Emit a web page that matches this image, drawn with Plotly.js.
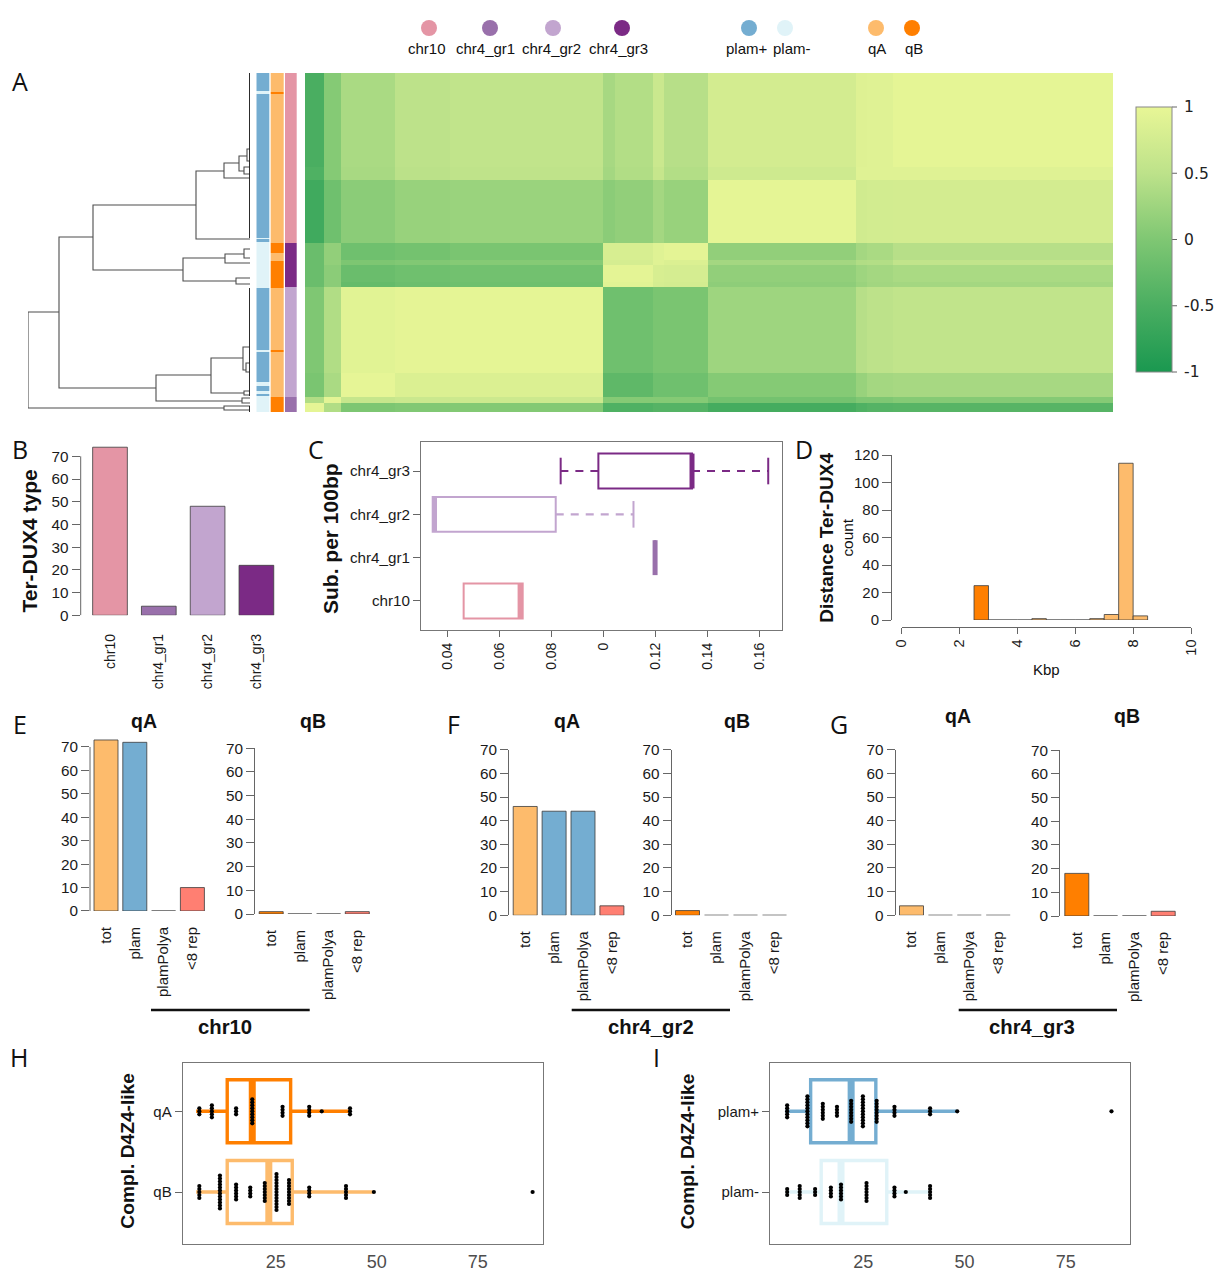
<!DOCTYPE html>
<html><head><meta charset="utf-8">
<script src="https://cdn.plot.ly/plotly-3.0.1.min.js"></script>
<style>html,body{margin:0;padding:0;background:#fff}#g{width:1216px;height:1280px}</style>
</head><body><div id="g"></div>
<script>
// ---------- DATA ----------
const chrCategories = ['chr10','chr4_gr1','chr4_gr2','chr4_gr3'];
const chrCounts = [74,4,48,22];

// Heatmap: block-wise correlation values (colEdges / rowEdges are cumulative sample extents)
const colEdges = [0,19,36,90,145,298,310,348,359,403,551,562,588,808];
const rowEdges = [0,94,107,170,187,192,209,214,300,324,330,339];
const heatValues = [
 [-.50,.05,.35,.50,.55,.32,.42,.65,.45,.75,.88,.90,.97],
 [-.45,.05,.33,.48,.52,.30,.40,.60,.42,.70,.90,.90,.90],
 [-.60,-.15,.10,.20,.22,.10,.15,.30,.20,.97,.72,.74,.75],
 [-.20,.15,-.15,-.10,-.05,.80,.80,.90,.95,.15,.30,.35,.45],
 [-.20,.15,-.02,.02,.05,.78,.78,.90,.85,.30,.40,.42,.55],
 [-.20,.10,-.20,-.15,-.12,.95,.95,.80,.78,.15,.25,.30,.35],
 [-.20,.10,-.25,-.18,-.15,.92,.92,.78,.76,.12,.22,.28,.30],
 [.00,.40,.92,.96,.97,-.15,-.15,-.05,-.05,.25,.45,.50,.55],
 [-.05,.35,.98,.85,.85,-.30,-.30,-.15,-.15,.05,.20,.30,.32],
 [.40,.95,.60,.65,.68,.05,.05,.05,.05,-.10,.00,.00,.05],
 [.97,.40,-.02,.02,.03,-.45,-.45,-.40,-.40,-.55,-.45,-.40,-.38]
];
// Annotation tracks: 0 plam+,1 plam-,2 qA,3 qB,4 chr10,5 gr1,6 gr2,7 gr3
const plamEdges = [0,18,21,165,166,169,170,215,277,279,309,313,318,321,323,339];
const plamCodes = [0,1,0,1,0,1,1,0,1,0,1,0,1,0,1];
const qEdges = [0,18.5,21,170,179.5,188,215,277,279,324,339];
const qCodes = [2,3,2,3,2,3,2,3,2,3];
const chrEdges = [0,170,214,324,339];
const chrCodes = [4,7,6,5];

// Dendrogram merges: [height, yTop, yBottom, heightTopChild, heightBottomChild]
const dendroMerges = [
 [222,239,335,191,26],[26,333,337,0,0],[191,164,315,157,94],[157,132,197,54,67],
 [54,98,166,26,0],[26,90,105,11,0],[11,83,98,3,6],[3,76,88,0,0],[6,94,101,0,0],
 [67,185,208,25,14],[25,181,190,6,0],[6,176,185,0,0],[14,205,211,0,0],
 [94,302,328,39,8],[8,325,330,0,0],[39,285,320,7,6],[6,318,322,0,0],
 [7,274,297,0,4],[4,290,299,0,0]
];
const dendroLeafSpans = [[0,165],[215,323],[333,339]];

// Panel C: substitutions per 100 bp
const subCats = ['chr10','chr4_gr1','chr4_gr2','chr4_gr3'];
const subQ1 = [.0464,.12,.0345,.0982];
const subMedian = [.0681,.12,.0352,.1342];
const subQ3 = [.0691,.12,.0818,.1342];
const subLow = [null,null,null,.0837];
const subHigh = [null,null,.1117,.1635];
const subTickVals = [.04,.06,.08,.10,.12,.14,.16];
const subTickText = ['0.04','0.06','0.08','0','0.12','0.14','0.16'];

// Panel D: histogram
const kbpBins = [2.75,3.25,3.75,4.25,4.75,5.25,5.75,6.25,6.75,7.25,7.75,8.25];
const kbpCounts = [25,0,0,0,1,0,0,0,1,4,114,3];

// Panels E-G
const repCats = ['tot','plam','plamPolya','<8 rep'];
const chr10qA = [73,72,0,10];
const chr10qB = [1,0,0,1];
const gr2qA = [46,44,44,4];
const gr2qB = [2,0,0,0];
const gr3qA = [4,0,0,0];
const gr3qB = [18,0,0,2];

// Panels H, I
const hCats = ['qB','qA'];
const hQ1 = [13.0,13.0], hMedian = [23.3,19.2], hQ3 = [29.1,28.7], hLow = [5.3,5.3], hHigh = [49,43.4];
const qADotVals = [6.1,9.2,15.2,19.2,26.7,33.3,36.4,43.4];
const qADotCounts = [3,5,3,9,4,4,1,3];
const qBDotVals = [6.1,11.2,15.2,18.7,22.3,25.2,28.3,33.3,42.4,49.3,88.6];
const qBDotCounts = [5,12,6,4,7,13,9,4,5,1,1];
const iCats = ['plam-','plam+'];
const iQ1 = [14.6,12.0], iMedian = [19.5,22], iQ3 = [30.8,28.1], iLow = [6.3,5.7], iHigh = [41.5,48.2];
const plamPlusDotVals = [6.2,11.2,15,18.5,22,24.9,28.3,32.7,41.5,48.2,86.3];
const plamPlusDotCounts = [5,11,6,4,8,11,8,4,3,1,1];
const plamMinusDotVals = [6.2,9.3,13.1,17,19.5,25.8,32.7,35.5,41.5];
const plamMinusDotCounts = [3,5,3,4,6,7,4,1,5];

const legendLabels = ['chr10','chr4_gr1','chr4_gr2','chr4_gr3','plam+','plam-','qA','qB'];

// ---------- STYLE ----------
const W=1216,H=1280;
const C={chr10:'#E495A5',gr1:'#9970AB',gr2:'#C2A5CF',gr3:'#7B2A85',plamP:'#74ADD1',plamM:'#E0F3F8',qA:'#FDBB6C',qB:'#FF7F00',rep:'#FF7F72'};
const SANS='Liberation Sans', AX='#666', TXT='#1a1a1a';
const dx=(a,b)=>[a/W,b/W], dy=(t,b)=>[1-b/H,1-t/H];
const traces=[], annotations=[], shapes=[];
const layout={width:W,height:H,autosize:false,margin:{l:0,r:0,t:0,b:0,pad:0,autoexpand:false},
  paper_bgcolor:'#fff',plot_bgcolor:'rgba(0,0,0,0)',showlegend:false,font:{family:SANS,color:TXT},
  annotations,shapes,boxmode:'overlay',barmode:'overlay',hovermode:false};
function sub(n,xc,yc){
  const s=n===1?'':n;
  const base={showgrid:false,zeroline:false,showline:false,ticks:'',showticklabels:false,fixedrange:true};
  layout['xaxis'+s]=Object.assign({},base,{anchor:'y'+s},xc);
  layout['yaxis'+s]=Object.assign({},base,{anchor:'x'+s},yc);
  return {xaxis:'x'+s,yaxis:'y'+s};
}
function ann(x,y,text,size,opt){
  opt=opt||{};
  annotations.push({xref:'paper',yref:'paper',x:x/W,y:1-y/H,text:opt.bold?'<b>'+text+'</b>':text,showarrow:false,
    xanchor:'center',yanchor:'middle',textangle:opt.angle||0,font:{family:opt.family||SANS,size:size,color:opt.color||'#111'}});
}
function hline(x0,x1,y){shapes.push({type:'line',xref:'paper',yref:'paper',x0:x0/W,x1:x1/W,y0:1-y/H,y1:1-y/H,line:{color:'#111',width:2.6}});}

// ---------- TOP LEGEND ----------
const legendX=[429,490,553,622,749,785,876,912], legendTextX=[427,485.5,551,618,747,792,877,913.5];
let a=sub(1,{domain:dx(0,W),range:[0,W]},{domain:dy(18,38),range:[0,1]});
traces.push(Object.assign({type:'scatter',mode:'markers',x:legendX,y:legendX.map(()=>.5),
  marker:{size:16,color:[C.chr10,C.gr1,C.gr2,C.gr3,C.plamP,C.plamM,C.qA,C.qB]},text:legendLabels},a));
legendLabels.forEach((t,i)=>ann(legendTextX[i],48.5,t,15));

// ---------- A: DENDROGRAM ----------
a=sub(2,{domain:dx(28,250),range:[222,0]},{domain:dy(73,412),range:[339,0]});
let dxs=[],dys=[];
dendroMerges.forEach(m=>{dxs.push(m[3],m[0],m[0],m[4],null);dys.push(m[1],m[1],m[2],m[2],null);});
traces.push(Object.assign({type:'scatter',mode:'lines',x:dxs,y:dys,line:{color:'#4d4d4d',width:1.1},cliponaxis:false},a));
let lx=[],ly=[];
dendroLeafSpans.forEach(s=>{lx.push(0,0,null);ly.push(s[0],s[1],null);});
traces.push(Object.assign({type:'scatter',mode:'lines',x:lx,y:ly,line:{color:'#222',width:1.9},cliponaxis:false},a));

// ---------- A: ANNOTATION TRACKS ----------
a=sub(3,{domain:dx(256.3,296.7),range:[0,40.4]},{domain:dy(73,412),range:[339,0]});
const catScale=[];
[C.plamP,C.plamM,C.qA,C.qB,C.chr10,C.gr1,C.gr2,C.gr3].forEach((c,i)=>{catScale.push([i/8,c],[(i+1)/8,c]);});
[[plamEdges,plamCodes,0,13],[qEdges,qCodes,14.4,27],[chrEdges,chrCodes,28.7,40.4]].forEach(t=>{
  traces.push(Object.assign({type:'heatmap',x:[t[2],t[3]],y:t[0],z:t[1].map(v=>[v]),zmin:-.5,zmax:7.5,
    colorscale:catScale,showscale:false,hoverinfo:'skip'},a));
});

// ---------- A: HEATMAP ----------
a=sub(4,{domain:dx(305,1113),range:[0,808]},{domain:dy(73,412),range:[339,0]});
const cbVals=[-1,-.5,0,.5,1];
traces.push(Object.assign({type:'heatmap',x:colEdges,y:rowEdges,z:heatValues,zmin:-1,zmax:1,
  colorscale:[[0,'#1A9850'],[.25,'#4AAE61'],[.5,'#7FC773'],[.75,'#BDE28A'],[1,'#E8F696']],
  colorbar:{x:1136/W,xanchor:'left',xref:'paper',y:1-372/H,yanchor:'bottom',yref:'paper',len:265,lenmode:'pixels',
    thickness:36,thicknessmode:'pixels',xpad:0,ypad:0,outlinecolor:'#888',outlinewidth:1,borderwidth:0,
    tickmode:'array',tickvals:cbVals,ticktext:['-1','-0.5','0','0.5','1'],ticks:'outside',ticklen:9,tickcolor:'rgba(0,0,0,0)',
    tickfont:{family:'DejaVu Sans',size:15.5,color:'#222'}}},a));
cbVals.forEach(v=>{const py=372-(v+1)/2*265;
  shapes.push({type:'line',xref:'paper',yref:'paper',x0:1172/W,x1:1177/W,y0:1-py/H,y1:1-py/H,line:{color:'#666',width:1}});});

// ---------- BAR HELPER ----------
function barPanel(n,cats,vals,colors,axisX,c0,sp,bw,yTop,yBot,rMax,dt,lblLen,lblSize){
  const peak=Math.max.apply(null,vals), over=peak>rMax, rTop=over?peak+.6:rMax;
  const top=yBot-(yBot-yTop)*rTop/rMax;
  const yAx={domain:dy(top,yBot),range:[0,rTop],showline:!over,linecolor:AX,linewidth:1,ticks:'outside',ticklen:8,tickcolor:AX,
    tick0:0,dtick:dt,showticklabels:true,tickfont:{family:SANS,size:15.3,color:TXT}};
  const xAx={domain:dx(axisX,c0+(cats.length-.5)*sp),type:'category',categoryorder:'array',categoryarray:cats,
    range:[(axisX-c0)/sp,cats.length-.5],showticklabels:true,tickangle:-90,ticks:'outside',ticklen:lblLen,tickcolor:'rgba(0,0,0,0)',
    tickfont:{family:SANS,size:lblSize,color:TXT}};
  const ax=sub(n,xAx,yAx);
  if(over) shapes.push({type:'line',xref:'x'+n+' domain',yref:'y'+n,x0:0,x1:0,y0:0,y1:rMax,line:{color:AX,width:1}});
  traces.push(Object.assign({type:'bar',x:cats,y:vals,width:bw/sp,cliponaxis:false,
    marker:{color:colors,line:{color:'rgba(60,60,60,.8)',width:1}}},ax));
}
// B
barPanel(5,chrCategories,chrCounts,[C.chr10,C.gr1,C.gr2,C.gr3],80.7,110,48.8,34.7,456.3,615.3,70,10,12,14);
ann(29,541.5,'Ter-DUX4 type',21,{bold:true,angle:-90});

// ---------- C ----------
a=sub(6,{domain:dx(421,782),range:[.03,.1688],showline:true,mirror:true,linecolor:'#777',linewidth:1,ticks:'outside',ticklen:6,tickcolor:AX,
    tickmode:'array',tickvals:subTickVals,ticktext:subTickText,tickangle:-90,showticklabels:true,tickfont:{family:SANS,size:14,color:TXT}},
  {domain:dy(442,630),range:[.33,4.67],showline:true,mirror:true,linecolor:'#777',linewidth:1,ticks:'outside',ticklen:7,tickcolor:AX,
    tickmode:'array',tickvals:[1,2,3,4],ticktext:subCats,showticklabels:true,tickfont:{family:SANS,size:15.2,color:TXT}});
const subColors=[C.chr10,C.gr1,C.gr2,C.gr3];
subCats.forEach((c,i)=>{
  const p=i+1,col=subColors[i];
  traces.push(Object.assign({type:'box',orientation:'h',y:[p],q1:[subQ1[i]],median:[subMedian[i]],q3:[subQ3[i]],lowerfence:[subQ1[i]],upperfence:[subQ3[i]],
    width:.806,whiskerwidth:0,boxpoints:false,line:{color:col,width:2},fillcolor:'rgba(0,0,0,0)',name:c},a));
  traces.push(Object.assign({type:'scatter',mode:'lines',x:[subMedian[i],subMedian[i]],y:[p-.403,p+.403],line:{color:col,width:5}},a));
  [[subLow[i],subQ1[i]],[subHigh[i],subQ3[i]]].forEach(w=>{
    if(w[0]===null) return;
    traces.push(Object.assign({type:'scatter',mode:'lines',x:[w[1],w[0]],y:[p,p],line:{color:col,width:2.2,dash:'8px,7px'}},a));
    traces.push(Object.assign({type:'scatter',mode:'markers',x:[w[0]],y:[p],marker:{symbol:'line-ns',size:19,line:{color:col,width:2}}},a));
  });
});
ann(330,539,'Sub. per 100bp',21,{bold:true,angle:-90});

// ---------- D ----------
a=sub(7,{domain:dx(901.7,1191),range:[0,10],anchor:'free',position:1-626.7/H,showline:true,linecolor:AX,linewidth:1,ticks:'outside',ticklen:6,tickcolor:AX,
    tick0:0,dtick:2,tickangle:-90,showticklabels:true,tickfont:{family:SANS,size:14.5,color:TXT}},
  {domain:dy(455,620),range:[0,120],anchor:'free',position:891/W,showline:true,linecolor:AX,linewidth:1,ticks:'outside',ticklen:9,tickcolor:AX,
    tick0:0,dtick:20,showticklabels:true,tickfont:{family:SANS,size:15,color:TXT}});
traces.push(Object.assign({type:'bar',x:kbpBins,y:kbpCounts,width:.5,cliponaxis:false,
  marker:{color:kbpBins.map((b,i)=>i===0?C.qB:C.qA),line:{color:'rgba(60,60,60,.8)',width:1}}},a));
ann(825.7,538,'Distance Ter-DUX4',19,{bold:true,angle:-90});
ann(847.3,537.3,'count',15.4,{angle:-90});
ann(1046.7,669,'Kbp',15);

// ---------- E F G ----------
const colsA=[C.qA,C.plamP,C.plamP,C.rep], colsB=[C.qB,C.plamP,C.plamP,C.rep];
barPanel(8, repCats,chr10qA,colsA,90,  106,  28.8,24,747,  911,  70,10,9,15);
barPanel(9, repCats,chr10qB,colsB,255, 271.2,28.7,24,748.3,914,  70,10,9,15);
barPanel(10,repCats,gr2qA,  colsA,509, 525.2,28.9,24,749.7,915.3,70,10,9,15);
barPanel(11,repCats,gr2qB,  colsB,671.7,687.5,29, 24,749.7,915.3,70,10,9,15);
barPanel(12,repCats,gr3qA,  colsA,895.7,911.5,28.9,24,749.7,915.3,70,10,9,15);
barPanel(13,repCats,gr3qB,  colsB,1060,1076.8,28.8,24,750.3,916, 70,10,9,15);
[[143.7,721,'qA'],[312.7,721,'qB'],[566.7,721,'qA'],[736.7,721,'qB'],[958,716,'qA'],[1126.7,716,'qB']]
  .forEach(t=>ann(t[0],t[1],t[2],19.5,{bold:true}));
hline(151,309.7,1010);hline(571.7,730,1010);hline(958.7,1117,1010);
ann(225,1026.7,'chr10',20.3,{bold:true});ann(650.7,1026.7,'chr4_gr2',20.3,{bold:true});ann(1032,1026.7,'chr4_gr3',20.3,{bold:true});

// ---------- H I ----------
function swarmPanel(n,cats,l,r,rx,q1,med,q3,lo,hi,cols,dotSets,titleX){
  const ax=sub(n,{domain:dx(l,r),range:rx,showline:true,mirror:true,linecolor:'#777',linewidth:1,ticks:'outside',ticklen:1,tickcolor:'rgba(0,0,0,0)',
      tickmode:'array',tickvals:[25,50,75],showticklabels:true,tickfont:{family:SANS,size:18,color:'#4D4D4D'}},
    {domain:dy(1062.7,1244),range:[.356,2.602],showline:true,mirror:true,linecolor:'#777',linewidth:1,ticks:'outside',ticklen:7,tickcolor:AX,
      tickmode:'array',tickvals:[1,2],ticktext:cats,showticklabels:true,tickfont:{family:SANS,size:15,color:TXT}});
  cats.forEach((c,i)=>{
    const p=i+1;
    traces.push(Object.assign({type:'box',orientation:'h',y:[p],q1:[q1[i]],median:[med[i]],q3:[q3[i]],lowerfence:[lo[i]],upperfence:[hi[i]],
      width:.78,whiskerwidth:0,boxpoints:false,line:{color:cols[i],width:3.4},fillcolor:'rgba(0,0,0,0)',name:c},ax));
    traces.push(Object.assign({type:'scatter',mode:'lines',x:[med[i],med[i]],y:[p-.39,p+.39],line:{color:cols[i],width:7}},ax));
    const xs=[],ys=[],set=dotSets[i];
    set[0].forEach((v,k)=>{for(let j=0;j<set[1][k];j++){xs.push(v);ys.push(p+(j-(set[1][k]-1)/2)*3/80.7);}});
    traces.push(Object.assign({type:'scatter',mode:'markers',x:xs,y:ys,marker:{size:4.2,color:'#000'}},ax));
  });
  ann(titleX,1151,'Compl. D4Z4-like',19.2,{bold:true,angle:-90});
}
swarmPanel(14,hCats,182.7,542.7,[1.98,91.1],hQ1,hMedian,hQ3,hLow,hHigh,[C.qA,C.qB],[[qBDotVals,qBDotCounts],[qADotVals,qADotCounts]],126.7);
swarmPanel(15,iCats,770,1130.3,[1.96,90.95],iQ1,iMedian,iQ3,iLow,iHigh,[C.plamM,C.plamP],[[plamMinusDotVals,plamMinusDotCounts],[plamPlusDotVals,plamPlusDotCounts]],687.3);

// ---------- PANEL LETTERS ----------
[['A',20,81],['B',20,449],['C',316,449],['D',804,449],['E',20,724],['F',453,724],['G',839,724],['H',19,1057],['I',656,1057]]
  .forEach(t=>ann(t[1],t[2],t[0],25,{family:'Open Sans',color:'#111'}));

Plotly.newPlot('g',traces,layout,{displayModeBar:false,staticPlot:true});
</script></body></html>
